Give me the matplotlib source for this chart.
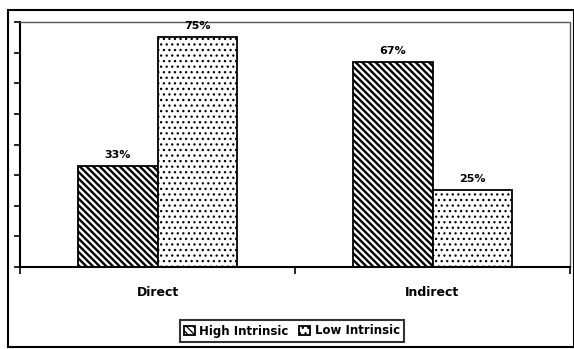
import matplotlib.pyplot as plt
from matplotlib.patches import Rectangle
import numpy as np

categories = ['Direct', 'Indirect']
series_names = ['High Intrinsic', 'Low Intrinsic']
high_vals = [33, 67]
low_vals = [75, 25]
labels_high = ['33%', '67%']
labels_low = ['75%', '25%']

fig = plt.figure(figsize=(5.74, 3.49), dpi=100)
ax = fig.add_axes([20/574, 1-267/349, 550/574, 245/349])

x = np.arange(len(categories))
w = 0.29
plt.rcParams['hatch.linewidth'] = 1.7
b1 = ax.bar(x - w/2, high_vals, w, facecolor='white', edgecolor='black',
            hatch='\\\\\\\\\\', linewidth=1.3, label=series_names[0])
plt.rcParams['hatch.linewidth'] = 0.9
b2 = ax.bar(x + w/2, low_vals, w, facecolor='white', edgecolor='black',
            hatch='...', linewidth=1.3, label=series_names[1])

for rect, t in list(zip(b1, labels_high)) + list(zip(b2, labels_low)):
    ax.text(rect.get_x() + rect.get_width()/2, rect.get_height() + 2, t,
            ha='center', va='bottom', fontsize=8, fontweight='bold')

ax.set_xlim(-0.5, 1.5)
ax.set_ylim(0, 80)
ax.set_yticks(np.arange(0, 81, 10))
ax.set_yticklabels([])
ax.tick_params(axis='y', direction='out', length=4, width=1.2)
ax.set_xticks(x)
ax.set_xticklabels(categories, fontsize=9, fontweight='bold')
ax.tick_params(axis='x', length=0, pad=14)
ax.set_xticks([-0.5, 0.5, 1.5], minor=True)
ax.tick_params(axis='x', which='minor', direction='out', length=5, width=1.2)

for s in ['left', 'bottom']:
    ax.spines[s].set_linewidth(1.5)
for s in ['top', 'right']:
    ax.spines[s].set_linewidth(1.0)
    ax.spines[s].set_color('#555555')
    ax.spines[s].set_linestyle((0, (1, 1)))

leg = fig.legend(loc='center', bbox_to_anchor=(292/574, 1-331/349), ncol=2,
                 frameon=True, fancybox=False, edgecolor='black',
                 prop={'size': 8.5, 'weight': 'bold'}, handlelength=0.9,
                 handleheight=0.9, handletextpad=0.4, columnspacing=0.9,
                 borderpad=0.35)
leg.get_frame().set_linewidth(1.5)

fig.patches.append(Rectangle((8/574, 1-347/349), 566/574, 337/349,
                             transform=fig.transFigure, fill=False,
                             edgecolor='black', linewidth=1.5))

fig.savefig('out.png', dpi=100)
